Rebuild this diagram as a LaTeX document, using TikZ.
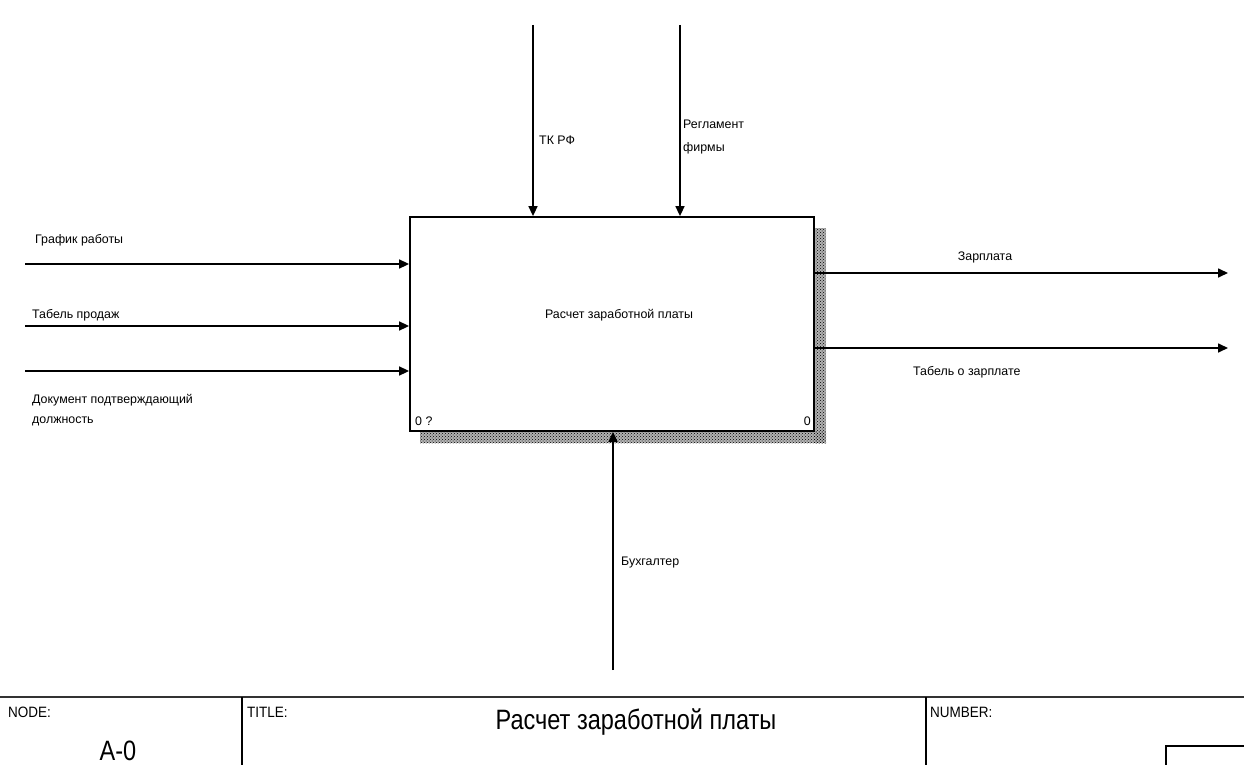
\documentclass[tikz,border=0pt]{standalone}
\usepackage{fontspec}
\setmainfont{Liberation Sans}
\usetikzlibrary{arrows.meta,patterns}
\begin{document}
\begin{tikzpicture}[x=1pt,y=-1pt,
  arr/.style={line width=1.6pt,-{Triangle[length=10pt,width=9pt]}},
  lbl/.style={inner sep=0pt,font=\fontsize{12.4}{14}\selectfont},
  small/.style={inner sep=0pt,font=\fontsize{15}{16}\selectfont},
  big/.style={inner sep=0pt,font=\fontsize{28}{30}\selectfont},
  shadowfill/.style={fill=black!30,draw=none},
  shadow/.style={pattern=crosshatch dots,pattern color=black,draw=none},
  frameline/.style={line width=1.3pt}]
\useasboundingbox (0,0) rectangle (1244,765);
% shadow
\fill[shadowfill] (814,228) rectangle (826,443);
\fill[shadowfill] (420,431) rectangle (826,443);
\fill[shadow] (814,228) rectangle (826,443);
\fill[shadow] (420,431) rectangle (826,443);
% activity box
\node[draw,line width=1.8pt,fill=white,minimum width=404pt,minimum height=214pt,inner sep=0pt] (box) at (612,324) {};
\node[lbl] (boxlbl) at (619,315) {Расчет заработной платы};
\node[lbl,anchor=west] (num1) at (415,421) {0 ?};
\node[lbl,anchor=east] (num2) at (811,421) {0};
% free ends
\coordinate (tk) at (533,25);
\coordinate (reg) at (680,25);
\coordinate (in1) at (25,264);
\coordinate (in2) at (25,326);
\coordinate (in3) at (25,371);
\coordinate (out1) at (1228,273);
\coordinate (out2) at (1228,348);
\coordinate (mech) at (613,670);
% controls
\draw[arr] (tk) -- (tk |- box.north);
\draw[arr] (reg) -- (reg |- box.north);
% inputs
\draw[arr] (in1) -- (in1 -| box.west);
\draw[arr] (in2) -- (in2 -| box.west);
\draw[arr] (in3) -- (in3 -| box.west);
% outputs
\draw[arr] (out1 -| box.east) -- (out1);
\draw[arr] (out2 -| box.east) -- (out2);
% mechanism
\draw[arr] (mech) -- (mech |- box.south);
% labels
\node[lbl,anchor=west] (ltk) at (539,140) {ТК РФ};
\node[lbl,anchor=west,align=left,font=\fontsize{12.4}{23}\selectfont] (lreg) at (683,137) {Регламент\\фирмы};
\node[lbl,anchor=west] (lin1) at (35,240) {График работы};
\node[lbl,anchor=west] (lin2) at (32,315) {Табель продаж};
\node[lbl,anchor=west,align=left,font=\fontsize{12.4}{20}\selectfont] (lin3) at (32,410) {Документ подтверждающий\\должность};
\node[lbl] (lout1) at (985,257) {Зарплата};
\node[lbl,anchor=west] (lout2) at (913,372) {Табель о зарплате};
\node[lbl,anchor=west] (lmech) at (621,563) {Бухгалтер};
% frame
\draw[frameline,line width=2pt,draw=black!80] (0,697) -- (1244,697);
\draw[frameline] (242,697) -- (242,765);
\draw[frameline] (926,697) -- (926,765);
\draw[frameline] (1166,765) -- (1166,746) -- (1244,746);
\node[small,anchor=west,xscale=0.9] (fnode) at (8,712) {NODE:};
\node[small,anchor=west,xscale=0.9] (ftitle) at (247,712) {TITLE:};
\node[small,anchor=west,xscale=0.9] (fnumber) at (930,712) {NUMBER:};
\node[big,xscale=0.84] (ftitletext) at (636,722) {Расчет заработной платы};
\node[big,xscale=0.84,anchor=north] (fa0) at (118,741) {A-0};
\end{tikzpicture}
\end{document}
